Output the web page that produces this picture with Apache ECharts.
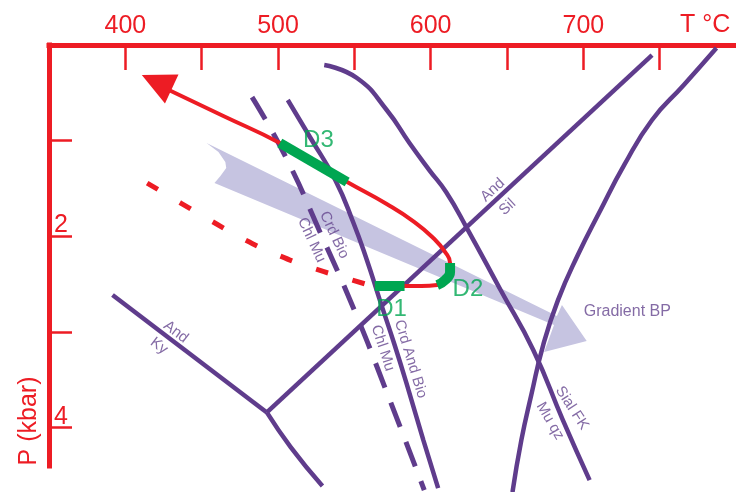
<!DOCTYPE html>
<html>
<head>
<meta charset="utf-8">
<script src="https://cdn.jsdelivr.net/npm/echarts@6/dist/echarts.min.js"></script>
<style>
html, body { margin: 0; padding: 0; background: #ffffff; }
#chart { width: 736px; height: 492px; }
</style>
</head>
<body>
<div id="chart"></div>
<script>
// Axis ticks: temperature (°C) along the top, pressure (kbar) down the side
const tempTicks = [400, 450, 500, 550, 600, 650, 700, 750];
const tempLabels = [400, 500, 600, 700];
const presTicks = [1, 2, 3, 4];
const presLabels = [2, 4];

// Reaction curves as [T °C, P kbar]
const andSil = [[492.7, 3.84], [745.0, 0.105]];
const andKy = [[391.6, 2.613], [492.7, 3.84]];
const kySil = [[492.7, 3.84], [508.3, 4.202], [529.1, 4.61]];
const crdAndBio = [[506.4, 0.575], [521.3, 0.972], [537.5, 1.411], [549.2, 1.85], [558.2, 2.247],
  [566.7, 2.666], [576.4, 3.136], [585.5, 3.606], [595.2, 4.129], [604.9, 4.631]];
const chlMu = [[483.0, 0.544], [505.1, 1.171], [527.8, 1.965], [550.5, 2.791], [571.2, 3.627], [595.8, 4.652]];
const sialFk = [[530.3, 0.209], [551.7, 0.345], [571.2, 0.679], [586.1, 1.024], [599.1, 1.307],
  [610.1, 1.537], [623.7, 1.913], [645.8, 2.561], [667.2, 3.188], [686.6, 3.92], [704.1, 4.547]];
const muQz = [[787.2, 0.031], [765.8, 0.418], [745.0, 0.784], [726.8, 1.254], [710.6, 1.746],
  [696.4, 2.195], [683.4, 2.666], [673.7, 3.136], [665.9, 3.659], [659.4, 4.129], [653.6, 4.673]];

// P-T path (retrograde leg ends with an arrow), dotted prograde leg
const ptPath = [[428.5, 0.47], [464.2, 0.742], [501.2, 1.024], [545.3, 1.432], [571.2, 1.662],
  [589.4, 1.85], [601.7, 2.017], [609.5, 2.164], [612.7, 2.279], [612.7, 2.373], [609.5, 2.456],
  [604.3, 2.509], [593.9, 2.519], [582.9, 2.519], [563.4, 2.519]];
const ptArrowHead = [[420.6, 0.387]];
const ptPrograde = [[414.3, 1.443], [436.3, 1.652], [456.4, 1.84], [478.5, 2.038], [499.9, 2.195],
  [522.6, 2.331], [546.6, 2.446], [559.5, 2.509]];

// Deformation stages along the path
const stageD1 = [[563.4, 2.519], [582.9, 2.519]];
const stageD2 = [[612.7, 2.279], [612.7, 2.373], [609.5, 2.456], [604.3, 2.509]];
const stageD3 = [[501.2, 1.024], [545.3, 1.432]];

// Broad arrow for the BP gradient (outline vertices)
const gradientBP = [[453.2, 1.024], [682.7, 2.833], [686.0, 2.718], [702.2, 3.094], [674.3, 3.209],
  [680.8, 2.927], [458.4, 1.443], [462.3, 1.369], [466.1, 1.286], [465.5, 1.223], [461.0, 1.118]];

// Stage names and curve annotations: [text, T, P]
const stageNames = [['D3', 526.5, 0.993], ['D2', 624.4, 2.551], ['D1', 574.4, 2.76]];
const curveNames = [
  ['And', 640.6, 1.516], ['Sil', 650.3, 1.693],
  ['And', 433.1, 3.0], ['Ky', 422.0, 3.146],
  ['Crd Bio', 536.8, 1.986], ['Chl Mu', 521.9, 2.038],
  ['Chl Mu', 568.6, 3.167], ['Crd And Bio', 586.8, 3.282],
  ['Sial FK', 692.5, 3.794], ['Mu qz', 678.2, 3.93],
  ['Gradient BP', 728.8, 2.786]
];
const curveNameAngles = [42.7, 42.7, -37, -37, -65, -65, -72, -73, -57, -60, 0];

const RED = '#ed1c24';
const PURPLE = '#5f3c8c';
const TEXT_PURPLE = '#65468f';
const GREEN = '#00a651';
const LAVENDER = '#c6c4e1';
const FONT = '"Liberation Sans", Arial, sans-serif';

function curve(data, opts) {
  return Object.assign({
    type: 'line', data: data, showSymbol: false, symbol: 'none', clip: false,
    silent: true, animation: false, z: 2,
    lineStyle: { color: PURPLE, width: 4.5, cap: 'butt' }
  }, opts);
}

const chart = echarts.init(document.getElementById('chart'), null, { renderer: 'canvas' });

chart.setOption({
  backgroundColor: '#ffffff',
  animation: false,
  grid: { left: 49, top: 45, width: 694, height: 421, containLabel: false },
  xAxis: {
    type: 'value', position: 'top', min: 350, max: 800, interval: 50,
    axisLine: { show: true, lineStyle: { color: RED, width: 5, cap: 'square' } },
    axisTick: { show: true, inside: true, length: 25, customValues: tempTicks,
      lineStyle: { color: RED, width: 2.5 } },
    axisLabel: { show: true, customValues: tempLabels, color: RED, fontSize: 25, fontFamily: FONT,
      margin: 7, lineHeight: 24,
      formatter: v => (tempLabels.indexOf(v) >= 0 ? String(v) : '') },
    splitLine: { show: false }
  },
  yAxis: {
    type: 'value', inverse: true, min: 0, max: 4.4, interval: 1,
    axisLine: { show: true, lineStyle: { color: RED, width: 5, cap: 'square' } },
    axisTick: { show: true, inside: true, length: 23, customValues: presTicks,
      lineStyle: { color: RED, width: 2.5 } },
    axisLabel: { show: true, inside: true, customValues: presLabels, color: RED, fontSize: 25,
      fontFamily: FONT, margin: 5, verticalAlign: 'bottom', lineHeight: 22,
      formatter: v => (presLabels.indexOf(v) >= 0 ? String(v) : '') },
    splitLine: { show: false }
  },
  graphic: [
    { type: 'text', left: 680, top: 13,
      style: { text: 'T °C', fill: RED, fontSize: 25, fontFamily: FONT } },
    { type: 'text', x: 29, y: 421, rotation: Math.PI / 2,
      style: { text: 'P (kbar)', fill: RED, fontSize: 25, fontFamily: FONT,
        align: 'center', verticalAlign: 'middle' } }
  ],
  series: [
    {
      type: 'custom', clip: false, silent: true, z: 1,
      data: [gradientBP[0]],
      renderItem: function (params, api) {
        return {
          type: 'polygon',
          shape: { points: gradientBP.map(p => api.coord(p)) },
          style: { fill: LAVENDER }
        };
      }
    },
    curve(andSil),
    curve(andKy),
    curve(kySil, { smooth: true }),
    curve(crdAndBio, { smooth: true }),
    curve(chlMu, { smooth: true, lineStyle: { color: PURPLE, width: 5, type: [26, 16], cap: 'butt' } }),
    curve(sialFk, { smooth: true }),
    curve(muQz, { smooth: true }),
    curve(ptPrograde, { smooth: true, z: 3, lineStyle: { color: RED, width: 5, type: [12.5, 25.5], cap: 'butt' } }),
    curve(ptPath, { smooth: true, z: 3, lineStyle: { color: RED, width: 4, cap: 'butt' } }),
    {
      type: 'scatter', data: ptArrowHead, symbol: 'triangle', symbolSize: [32, 33], symbolRotate: 65,
      itemStyle: { color: RED, opacity: 1 }, silent: true, z: 3, clip: false
    },
    curve(stageD3, { z: 4, lineStyle: { color: GREEN, width: 10, cap: 'butt' } }),
    curve(stageD2, { z: 4, smooth: true, lineStyle: { color: GREEN, width: 10, cap: 'butt' } }),
    curve(stageD1, { z: 4, lineStyle: { color: GREEN, width: 10, cap: 'butt' } }),
    {
      type: 'scatter', silent: true, z: 5, clip: false, symbolSize: 0.1,
      itemStyle: { color: 'rgba(0,0,0,0)' },
      data: stageNames.map(s => ({
        value: [s[1], s[2]],
        label: { show: true, position: 'inside', formatter: s[0], color: GREEN,
          fontSize: 24, fontFamily: FONT, align: 'center', verticalAlign: 'middle' }
      }))
    },
    {
      type: 'scatter', silent: true, z: 5, clip: false, symbolSize: 0.1,
      itemStyle: { color: 'rgba(0,0,0,0)' },
      data: curveNames.map((s, i) => ({
        value: [s[1], s[2]],
        label: { show: true, position: 'inside', formatter: s[0], color: TEXT_PURPLE,
          fontSize: s[0] === 'Gradient BP' ? 16 : 15, fontFamily: FONT,
          rotate: curveNameAngles[i], align: 'center', verticalAlign: 'middle' }
      }))
    }
  ]
});
</script>
</body>
</html>
